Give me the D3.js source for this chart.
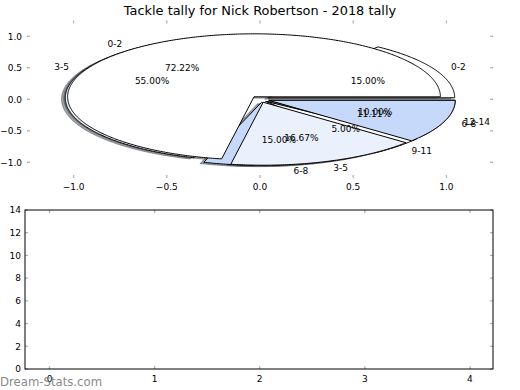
<!DOCTYPE html>
<html><head><meta charset="utf-8">
<script src="https://cdn.jsdelivr.net/npm/d3@7"></script>
<style>body{margin:0;background:#fff}svg{display:block;font-family:"DejaVu Sans",sans-serif}</style>
</head><body><div id="c"></div>
<script>
const title = "Tackle tally for Nick Robertson - 2018 tally";
// first pie drawn (underneath)
const labelsB = ["0-2","3-5","6-8","9-11","12-14"];
const valuesB = [15, 55, 15, 5, 10];
// second pie drawn (on top)
const labelsA = ["0-2","3-5","6-8"];
const valuesA = [72.22, 16.67, 11.11];
const sliceColors = ["#ffffff", "#eaf1fd", "#c6d9fb"];
const explodeAmt = 0.05;
const pieTicks = [-1.0, -0.5, 0.0, 0.5, 1.0];
const barXTicks = [0, 1, 2, 3, 4];
const barYTicks = [0, 2, 4, 6, 8, 10, 12, 14];
const watermark = "Dream-Stats.com";

const W = 520, H = 390;
const svg = d3.select("#c").append("svg").attr("width", W).attr("height", H);
const fmt = v => d3.format(".1f")(v).replace("-", "\u2212");

svg.append("text").attr("x", 260).attr("y", 14.5).attr("text-anchor", "middle")
  .attr("font-size", "12.9px").text(title);

// ---- top (pie) axes
const x = d3.scaleLinear().domain([-1.25, 1.25]).range([27, 493]);
const y = d3.scaleLinear().domain([-1.25, 1.25]).range([178, 20.5]);
const gTop = svg.append("g");
const tickCol = "#b4b4b4";
pieTicks.forEach(t => {
  gTop.append("line").attr("x1", x(t)).attr("x2", x(t)).attr("y1", y.range()[1]).attr("y2", y.range()[1] + 3).attr("stroke", tickCol).attr("stroke-width", 1.3);
  gTop.append("line").attr("x1", x(t)).attr("x2", x(t)).attr("y1", y.range()[0]).attr("y2", y.range()[0] - 3).attr("stroke", tickCol).attr("stroke-width", 1.3);
  gTop.append("line").attr("y1", y(t)).attr("y2", y(t)).attr("x1", x.range()[0]).attr("x2", x.range()[0] + 3).attr("stroke", tickCol).attr("stroke-width", 1.3);
  gTop.append("line").attr("y1", y(t)).attr("y2", y(t)).attr("x1", x.range()[1]).attr("x2", x.range()[1] - 3).attr("stroke", tickCol).attr("stroke-width", 1.3);
  gTop.append("text").attr("x", x(t)).attr("y", 189.5).attr("text-anchor", "middle").attr("font-size", "9px").text(fmt(t));
  gTop.append("text").attr("x", 22).attr("y", y(t) + 3.3).attr("text-anchor", "end").attr("font-size", "9px").text(fmt(t));
});

function buildWedges(labels, values) {
  const arcs = d3.pie().sort(null).startAngle(0).endAngle(2 * Math.PI)(values);
  const total = d3.sum(values);
  return arcs.map((a, i) => {
    const t1 = a.startAngle, t2 = a.endAngle, tm = (t1 + t2) / 2;
    const cx = explodeAmt * Math.cos(tm), cy = explodeAmt * Math.sin(tm);
    const n = Math.max(4, Math.ceil((t2 - t1) / 0.01));
    const pts = [[cx, cy]];
    for (let k = 0; k <= n; k++) {
      const t = t1 + (t2 - t1) * k / n;
      pts.push([cx + Math.cos(t), cy + Math.sin(t)]);
    }
    return {pts, cx, cy, tm, label: labels[i], pct: (100 * values[i] / total).toFixed(2) + "%", color: sliceColors[i % sliceColors.length]};
  });
}
const wedgesB = buildWedges(labelsB, valuesB);
const wedgesA = buildWedges(labelsA, valuesA);
const all = wedgesB.concat(wedgesA);

const lineData = (dx, dy) => d3.line().x(p => x(p[0] + dx)).y(p => y(p[1] + dy)).curve(d3.curveLinearClosed);

// shadows (below all wedges)
all.forEach(w => {
  const c = d3.rgb(w.color);
  const sc = `rgb(${Math.round(c.r * 0.3)},${Math.round(c.g * 0.3)},${Math.round(c.b * 0.3)})`;
  gTop.append("path").attr("d", lineData(-0.02, -0.02)(w.pts))
    .attr("fill", sc).attr("fill-opacity", 0.5).attr("stroke", sc).attr("stroke-opacity", 0.5).attr("stroke-width", 1);
});
// wedges
all.forEach(w => {
  gTop.append("path").attr("d", lineData(0, 0)(w.pts))
    .attr("fill", w.color).attr("stroke", "#000").attr("stroke-width", 1).attr("stroke-linejoin", "miter");
});
// texts
all.forEach(w => {
  const lx = w.cx + 1.1 * Math.cos(w.tm), ly = w.cy + 1.1 * Math.sin(w.tm);
  gTop.append("text").attr("x", x(lx)).attr("y", y(ly) + 3.3)
    .attr("text-anchor", lx > 0 ? "start" : "end").attr("font-size", "9px").text(w.label);
  const px = w.cx + 0.6 * Math.cos(w.tm), py = w.cy + 0.6 * Math.sin(w.tm);
  gTop.append("text").attr("x", x(px)).attr("y", y(py) + 3.3)
    .attr("text-anchor", "middle").attr("font-size", "9px").text(w.pct);
});

// ---- bottom (empty bar) axes
const bx = d3.scaleLinear().domain([-0.233, 4.219]).range([25, 493]);
const by = d3.scaleLinear().domain([0, 14]).range([369, 210]);
const gB = svg.append("g");
barXTicks.forEach(t => {
  gB.append("line").attr("x1", bx(t)).attr("x2", bx(t)).attr("y1", 210).attr("y2", 213).attr("stroke", tickCol).attr("stroke-width", 1.3);
  gB.append("line").attr("x1", bx(t)).attr("x2", bx(t)).attr("y1", 369).attr("y2", 366).attr("stroke", tickCol).attr("stroke-width", 1.3);
  gB.append("text").attr("x", bx(t)).attr("y", 381.5).attr("text-anchor", "middle").attr("font-size", "9px").text(t);
});
barYTicks.forEach(t => {
  gB.append("line").attr("y1", by(t)).attr("y2", by(t)).attr("x1", 25).attr("x2", 28).attr("stroke", tickCol).attr("stroke-width", 1.3);
  gB.append("line").attr("y1", by(t)).attr("y2", by(t)).attr("x1", 493).attr("x2", 490).attr("stroke", tickCol).attr("stroke-width", 1.3);
  gB.append("text").attr("x", 21).attr("y", by(t) + 3.3).attr("text-anchor", "end").attr("font-size", "9px").text(t);
});
gB.append("rect").attr("x", 25).attr("y", 210).attr("width", 468).attr("height", 159)
  .attr("fill", "none").attr("stroke", "#000").attr("stroke-width", 1);

svg.append("text").attr("x", 0).attr("y", 386).attr("font-size", "11.7px").attr("fill", "#8a8a8a").text(watermark);
</script></body></html>
